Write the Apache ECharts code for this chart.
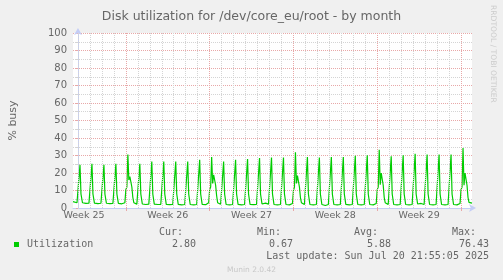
<!DOCTYPE html>
<html><head><meta charset="utf-8">
<script src="https://cdn.jsdelivr.net/npm/echarts@6/dist/echarts.min.js"></script>
<style>html,body{margin:0;padding:0;background:#f0f0f0;}#c{width:503px;height:280px;}</style>
</head><body><div id="c"></div>
<script>
// ---- text ----
const chartTitle = 'Disk utilization for /dev/core_eu/root - by month';
const yName = '% busy';
const seriesName = 'Utilization';
const statLabels = ['Cur:', 'Min:', 'Avg:', 'Max:'];
const statValues = ['2.80', '0.67', '5.88', '76.43'];
const lastUpdate = 'Last update: Sun Jul 20 21:55:05 2025';
const footer = 'Munin 2.0.42';
const sideText = 'RRDTOOL / TOBI OETIKER';

// ---- x axis (hours from the first midnight shown) ----
const weekLabels = ['Week 25', 'Week 26', 'Week 27', 'Week 28', 'Week 29'];
const weekCenters = [12, 180, 348, 516, 684];
const weekLines = [96, 264, 432, 600, 768];
const dayLines = [0, 24, 48, 72, 96, 120, 144, 168, 192, 216, 240, 264, 288, 312, 336, 360,
  384, 408, 432, 456, 480, 504, 528, 552, 576, 600, 624, 648, 672, 696, 720, 744, 768];

// ---- series data: [hour, % busy] ----
const week25 = [[-10, 3.6], [-6, 3.4], [-2, 3.0], [0, 3.2], [2, 3.0], [4, 24.7], [6, 8], [9, 3.0], [16, 2.6], [22, 2.8],
  [26, 2.7], [28, 25.3], [30, 8], [33, 2.8], [40, 2.5], [46, 2.7],
  [50, 2.6], [52, 24.7], [54, 8], [57, 2.7], [64, 2.5], [70, 2.6],
  [74, 2.6], [76, 25.3], [78, 8], [81, 2.6], [88, 2.4], [94, 3.0]];
const week26 = [[96, 10.5], [98, 12], [100, 30.5], [102, 16], [104, 18], [106, 17], [108, 12], [110, 6], [112, 3], [118, 2.2],
  [122, 2.2], [124, 25.3], [126, 8], [129, 2.3], [136, 2.0], [142, 2.2],
  [146, 2.1], [148, 26.6], [150, 8], [153, 2.2], [160, 2.0], [166, 2.1],
  [170, 2.0], [172, 26.6], [174, 8], [177, 2.1], [184, 1.9], [190, 2.0],
  [194, 2.0], [196, 26.6], [198, 8], [201, 2.1], [208, 1.8], [214, 2.0],
  [218, 2.0], [220, 26.6], [222, 8], [225, 2.0], [232, 1.8], [238, 2.0],
  [242, 2.0], [244, 27.6], [246, 8], [249, 2.1], [256, 1.9], [262, 3.0]];
const week27 = [[264, 10.5], [266, 12], [268, 29.1], [270, 14], [272, 19], [274, 18], [276, 13], [278, 7], [280, 3], [286, 2.1],
  [290, 2.0], [292, 26.6], [294, 8], [297, 2.0], [304, 1.8], [310, 2.0],
  [314, 2.0], [316, 27.6], [318, 8], [321, 2.1], [328, 1.8], [334, 2.0],
  [338, 2.0], [340, 28.0], [342, 8], [345, 2.0], [352, 1.9], [358, 2.1],
  [362, 2.2], [364, 28.6], [366, 8], [369, 2.3], [376, 2.8], [382, 2.2],
  [386, 2.0], [388, 28.9], [390, 8], [393, 2.0], [400, 1.8], [406, 2.0],
  [410, 2.0], [412, 28.9], [414, 8], [417, 2.0], [424, 1.8], [430, 2.6]];
const week28 = [[432, 10], [434, 12], [436, 31.8], [438, 14], [440, 18.5], [442, 17.5], [444, 12], [446, 6], [448, 3], [454, 2.0],
  [458, 2.0], [460, 29.1], [462, 8], [465, 2.0], [472, 1.8], [478, 2.0],
  [482, 2.0], [484, 28.9], [486, 8], [489, 2.0], [496, 1.4], [502, 2.0],
  [506, 2.0], [508, 29.1], [510, 8], [513, 2.0], [520, 1.8], [526, 2.0],
  [530, 2.0], [532, 29.1], [534, 8], [537, 2.1], [544, 1.8], [550, 2.0],
  [554, 2.0], [556, 29.9], [558, 8], [561, 2.0], [568, 1.8], [574, 2.0],
  [578, 2.0], [580, 30.1], [582, 8], [585, 2.0], [592, 1.8], [598, 2.6]];
const week29 = [[600, 10.5], [602, 12], [604, 33.3], [606, 13.3], [608, 20], [610, 19], [612, 13], [614, 6], [616, 3], [622, 2.0],
  [626, 2.0], [628, 29.5], [630, 8], [633, 2.0], [640, 1.8], [646, 2.0],
  [650, 2.0], [652, 30.1], [654, 8], [657, 2.0], [664, 1.8], [670, 2.0],
  [674, 2.0], [676, 31.0], [678, 8], [681, 2.3], [688, 2.6], [694, 2.0],
  [698, 2.0], [700, 30.6], [702, 8], [705, 2.0], [712, 1.8], [718, 2.0],
  [722, 2.0], [724, 30.6], [726, 8], [729, 2.0], [736, 1.8], [742, 2.0],
  [746, 2.0], [748, 30.6], [750, 8], [753, 2.0], [760, 1.8], [766, 2.6]];
const week30 = [[768, 10.5], [770, 12], [772, 34.3], [774, 13], [776, 20], [778, 19], [780, 13], [782, 6], [784, 3.2], [788, 2.8], [790, 2.8]];

const busy = [].concat(week25, week26, week27, week28, week29, week30);

// ---- styling ----
const FONT = '"DejaVu Sans", sans-serif';
const MONO = '"DejaVu Sans Mono", monospace';
const TXT = '#666666';
const AXIS = '#c4cdf6';
const MGRID = '#e8a8a8';
const GRID = '#d4d4d4';
const GREEN = '#00cc00';

const chart = echarts.init(document.getElementById('c'), null, {renderer: 'canvas', width: 503, height: 280});

const statLabelRight = [183, 281, 378, 476];
const statValueRight = [196, 293, 391, 489];
const graphics = [
  {type: 'rect', shape: {x: 14, y: 242, width: 5, height: 5}, style: {fill: GREEN}},
  {type: 'text', x: 27, y: 244.5, style: {text: seriesName, font: '10px ' + MONO, fill: TXT, align: 'left', verticalAlign: 'middle'}},
  {type: 'text', x: 489, y: 256, style: {text: lastUpdate, font: '10px ' + MONO, fill: TXT, align: 'right', verticalAlign: 'middle'}},
  {type: 'text', x: 251.5, y: 270, style: {text: footer, font: '7.5px ' + FONT, fill: '#c8c8c8', align: 'center', verticalAlign: 'middle'}},
  {type: 'text', x: 493, y: 5, rotation: -Math.PI / 2, style: {text: sideText, font: '7.6px ' + FONT, fill: '#cccccc', align: 'left', verticalAlign: 'middle'}}
];
statLabels.forEach((t, i) => graphics.push({type: 'text', x: statLabelRight[i], y: 232.5,
  style: {text: t, font: '10px ' + MONO, fill: TXT, align: 'right', verticalAlign: 'middle'}}));
statValues.forEach((t, i) => graphics.push({type: 'text', x: statValueRight[i], y: 244.5,
  style: {text: t, font: '10px ' + MONO, fill: TXT, align: 'right', verticalAlign: 'middle'}}));

chart.setOption({
  animation: false,
  backgroundColor: '#f0f0f0',
  title: {text: chartTitle, left: 'center', top: 5,
    textStyle: {fontFamily: FONT, fontSize: 12.5, fontWeight: 'normal', color: TXT}},
  grid: {left: 72, top: 33, width: 400, height: 175, show: true, backgroundColor: '#ffffff', borderWidth: 0},
  xAxis: {
    type: 'value', min: -10, max: 790,
    axisLine: {show: true, lineStyle: {color: AXIS, width: 1}, symbol: ['none', 'arrow'], symbolSize: [6, 7], symbolOffset: [0, 4]},
    axisTick: {show: true, customValues: weekLines, length: 3, lineStyle: {color: MGRID}},
    axisLabel: {customValues: weekCenters, formatter: v => weekLabels[weekCenters.indexOf(v)],
      fontFamily: FONT, fontSize: 9.5, color: TXT, margin: 3},
    splitLine: {show: false}
  },
  yAxis: {
    type: 'value', min: 0, max: 100, interval: 10,
    name: yName, nameLocation: 'middle', nameGap: 54, nameRotate: 90,
    nameTextStyle: {fontFamily: FONT, fontSize: 11, color: TXT},
    axisLine: {show: true, lineStyle: {color: AXIS, width: 1}, symbol: ['none', 'arrow'], symbolSize: [6, 7], symbolOffset: [0, 5]},
    axisTick: {show: true, length: 2, lineStyle: {color: MGRID}},
    minorTick: {show: true, splitNumber: 2, length: 2, lineStyle: {color: GRID}},
    axisLabel: {fontFamily: FONT, fontSize: 10, color: TXT, margin: 6},
    splitLine: {show: true, lineStyle: {color: MGRID, type: [1, 1], width: 1}},
    minorSplitLine: {show: true, lineStyle: {color: GRID, type: [1, 1], width: 1}}
  },
  graphic: graphics,
  series: [
    {
      type: 'line', data: [], silent: true, z: 1,
      markLine: {silent: true, symbol: ['none', 'none'], label: {show: false}, animation: false,
        lineStyle: {color: GRID, type: [1, 1], width: 1},
        data: dayLines.map(v => ({xAxis: v}))}
    },
    {
      type: 'line', data: [], silent: true, z: 1,
      markLine: {silent: true, symbol: ['none', 'none'], label: {show: false}, animation: false,
        lineStyle: {color: MGRID, type: [1, 1], width: 1},
        data: weekLines.map(v => ({xAxis: v}))}
    },
    {
      name: seriesName, type: 'line', data: busy, showSymbol: false, z: 3,
      lineStyle: {color: GREEN, width: 1.2}, itemStyle: {color: GREEN}
    }
  ]
});
</script></body></html>
